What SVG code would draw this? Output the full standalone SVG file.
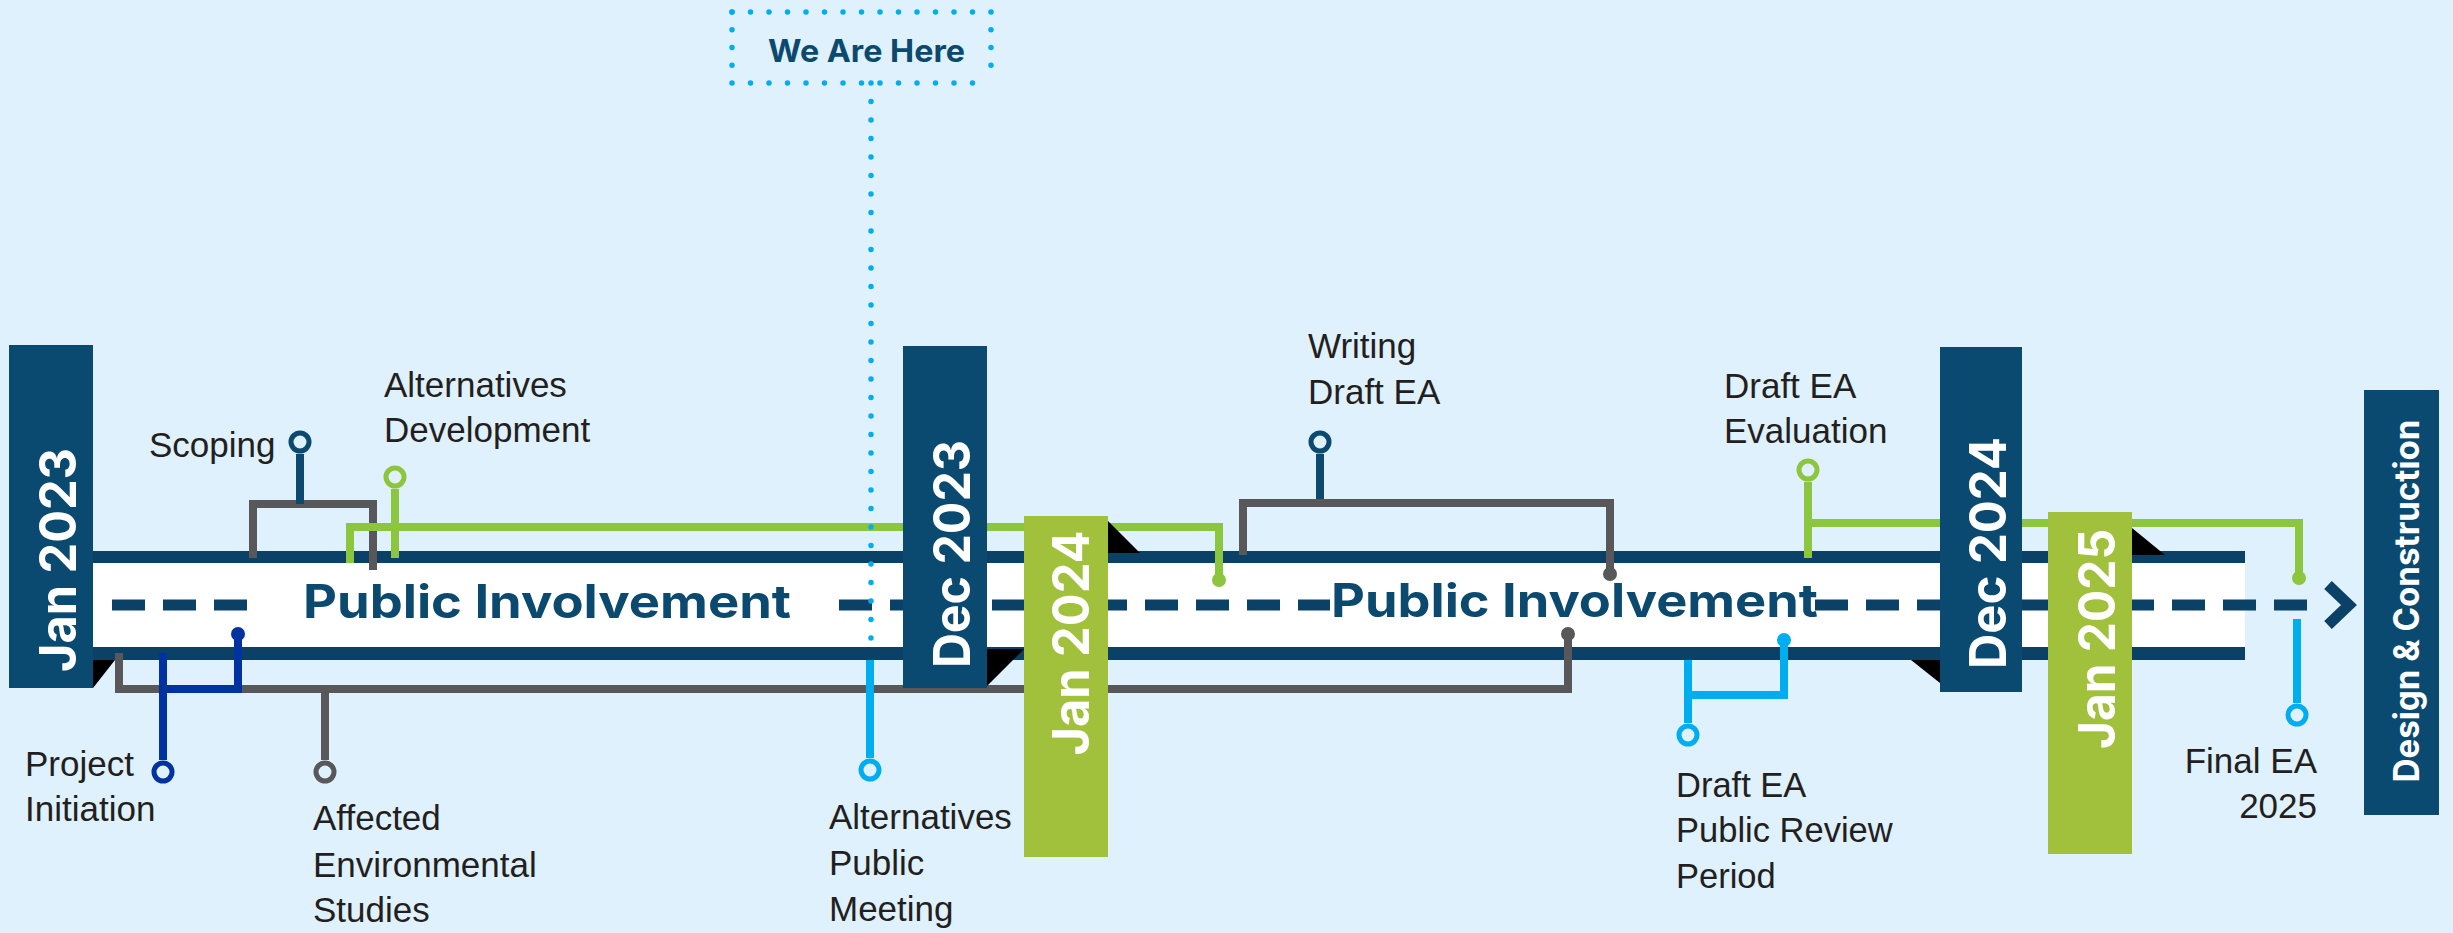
<svg xmlns="http://www.w3.org/2000/svg" width="2453" height="933" viewBox="0 0 2453 933">
<defs>
<style>
.lbl{font-family:"Liberation Sans",Arial,sans-serif;font-size:35px;fill:#231f20}
.lbl2{font-family:"Liberation Sans",Arial,sans-serif;font-size:34.5px;fill:#231f20}
.bold{font-family:Inter,"Liberation Sans",Arial,sans-serif;font-weight:700;fill:#0b4a6e}
.date{font-family:Inter,"Liberation Sans",Arial,sans-serif;font-weight:700;font-size:51px;fill:#ffffff}
.navy{fill:#0b4a70}
.gbox{fill:#a1c13c}
.ring{stroke-width:5;fill:#dff1fc}
.ln{fill:none;stroke-width:8;stroke-linejoin:miter;stroke-linecap:butt}
.dot{stroke:#00aeef;stroke-width:5.5;stroke-linecap:round;fill:none}
</style>
</defs>
<rect width="2453" height="933" fill="#dff1fc"/>
<g id="road">
<rect x="93" y="551" width="2152" height="12" fill="#0c4167"/>
<rect x="93" y="563" width="2152" height="84" fill="#ffffff"/>
<rect x="93" y="647" width="2152" height="13" fill="#0c4167"/>
<g stroke="#0c4167" stroke-width="11" stroke-dasharray="33 18" fill="none">
<line x1="112" y1="605" x2="248" y2="605"/>
<line x1="839" y1="605" x2="1330" y2="605"/>
<line x1="1815" y1="605" x2="2309" y2="605"/>
</g>
<polyline points="2328,585 2349,605 2328,625" fill="none" stroke="#0c4167" stroke-width="11"/>
<text class="bold" x="303" y="618" font-size="46" textLength="488" lengthAdjust="spacingAndGlyphs">Public Involvement</text>
<text class="bold" x="1331" y="617" font-size="46" textLength="487" lengthAdjust="spacingAndGlyphs">Public Involvement</text>
</g>
<g id="connectors" class="ln">
<path d="M253,558 V504 H373 V570" stroke="#58585b"/>
<path d="M300,454 V504" stroke="#0b4a6e"/>
<path d="M350,563 V527 H1219 V578" stroke="#8cc63f"/>
<path d="M395,489 V558" stroke="#8cc63f"/>
<path d="M119,653 V689 H1568 V634 M325,689 V760" stroke="#58585b"/>
<path d="M163,653 V760 M163,689 H238 V634" stroke="#0033a0"/>
<path d="M1320,454 V503" stroke="#0b4a6e"/>
<path d="M1243,555 V503 H1610 V572" stroke="#58585b"/>
<path d="M1808,482 V558 M1808,523 H2299 V576" stroke="#8cc63f"/>
<path d="M1688,660 V723 M1688,695 H1784 V640" stroke="#00aeef"/>
<path d="M2297,619 V703" stroke="#00aeef"/>
<path d="M870,660 V758" stroke="#00aeef"/>
<line class="dot" x1="871" y1="83" x2="871" y2="648" stroke-dasharray="0 18.5"/>
</g>
<g id="jan2023">
<rect class="navy" x="9" y="345" width="84" height="343"/>
<polygon points="93,660 115,660 93,688" fill="#000"/>
<text class="date" transform="translate(76,560) rotate(-90)" text-anchor="middle" textLength="224" lengthAdjust="spacingAndGlyphs">Jan 2023</text>
</g>
<g id="dec2023">
<rect class="navy" x="903" y="346" width="84" height="342"/>
<polygon points="987,649 1024,649 987,686" fill="#000"/>
<text class="date" transform="translate(970,554) rotate(-90)" text-anchor="middle" textLength="228" lengthAdjust="spacingAndGlyphs">Dec 2023</text>
</g>
<g id="jan2024">
<rect class="gbox" x="1024" y="516" width="84" height="341"/>
<polygon points="1108,521 1140,553 1108,553" fill="#000"/>
<text class="date" transform="translate(1089,643) rotate(-90)" text-anchor="middle" textLength="225" lengthAdjust="spacingAndGlyphs">Jan 2024</text>
</g>
<g id="dec2024">
<rect class="navy" x="1940" y="347" width="82" height="345"/>
<polygon points="1911,660 1940,660 1940,683" fill="#000"/>
<text class="date" transform="translate(2006,553) rotate(-90)" text-anchor="middle" textLength="232" lengthAdjust="spacingAndGlyphs">Dec 2024</text>
</g>
<g id="jan2025">
<rect class="gbox" x="2048" y="512" width="84" height="342"/>
<polygon points="2132,528 2165,555 2132,555" fill="#000"/>
<text class="date" transform="translate(2115,639) rotate(-90)" text-anchor="middle" textLength="220" lengthAdjust="spacingAndGlyphs">Jan 2025</text>
</g>
<g id="design-construction">
<rect class="navy" x="2364" y="390" width="75" height="425"/>
<text class="bold" style="fill:#ffffff" font-size="35" transform="translate(2419,601) rotate(-90)" text-anchor="middle" textLength="363" lengthAdjust="spacingAndGlyphs">Design &amp; Construction</text>
</g>
<g id="we-are-here">
<line class="dot" x1="732" y1="12" x2="991" y2="12" stroke-dasharray="0 18.5"/>
<line class="dot" x1="732" y1="83" x2="991" y2="83" stroke-dasharray="0 18.5"/>
<line class="dot" x1="732" y1="12" x2="732" y2="83" stroke-dasharray="0 17.75"/>
<line class="dot" x1="991" y1="12" x2="991" y2="83" stroke-dasharray="0 17.75"/>
<text class="bold" x="866.5" y="62" font-size="31" text-anchor="middle" textLength="197" lengthAdjust="spacingAndGlyphs">We Are Here</text>
</g>
<g id="scoping">
<circle class="ring" cx="300" cy="442" r="9" stroke="#0b4a6e"/>
<text class="lbl" x="149" y="457">Scoping</text>
</g>
<g id="alternatives-development">
<circle class="ring" cx="395" cy="477" r="9" stroke="#8cc63f"/>
<circle cx="1219" cy="580" r="7" fill="#8cc63f"/>
<text class="lbl" x="384" y="397">Alternatives</text>
<text class="lbl" x="384" y="442">Development</text>
</g>
<g id="project-initiation">
<circle class="ring" cx="163" cy="772" r="9" stroke="#0033a0"/>
<circle cx="238" cy="634" r="7" fill="#0033a0"/>
<text class="lbl" x="25" y="776">Project</text>
<text class="lbl" x="25" y="821">Initiation</text>
</g>
<g id="affected-environmental-studies">
<circle class="ring" cx="325" cy="772" r="9" stroke="#58585b"/>
<circle cx="1568" cy="634" r="7" fill="#58585b"/>
<text class="lbl" x="313" y="830">Affected</text>
<text class="lbl" x="313" y="877">Environmental</text>
<text class="lbl" x="313" y="922">Studies</text>
</g>
<g id="alternatives-public-meeting">
<circle class="ring" cx="870" cy="770" r="9" stroke="#00aeef"/>
<text class="lbl" x="829" y="829">Alternatives</text>
<text class="lbl" x="829" y="875">Public</text>
<text class="lbl" x="829" y="921">Meeting</text>
</g>
<g id="writing-draft-ea">
<circle class="ring" cx="1320" cy="442" r="9" stroke="#0b4a6e"/>
<circle cx="1610" cy="574" r="7" fill="#58585b"/>
<text class="lbl" x="1308" y="358">Writing</text>
<text class="lbl" x="1308" y="404">Draft EA</text>
</g>
<g id="draft-ea-evaluation">
<circle class="ring" cx="1808" cy="470" r="9" stroke="#8cc63f"/>
<circle cx="2299" cy="578" r="7" fill="#8cc63f"/>
<text class="lbl" x="1724" y="398">Draft EA</text>
<text class="lbl" x="1724" y="443">Evaluation</text>
</g>
<g id="draft-ea-public-review">
<circle class="ring" cx="1688" cy="735" r="9" stroke="#00aeef"/>
<circle cx="1784" cy="640" r="7" fill="#00aeef"/>
<text class="lbl2" x="1676" y="797">Draft EA</text>
<text class="lbl2" x="1676" y="842">Public Review</text>
<text class="lbl2" x="1676" y="888">Period</text>
</g>
<g id="final-ea">
<circle class="ring" cx="2297" cy="715" r="9" stroke="#00aeef"/>
<text class="lbl" x="2317" y="773" text-anchor="end">Final EA</text>
<text class="lbl" x="2317" y="818" text-anchor="end">2025</text>
</g>
</svg>
